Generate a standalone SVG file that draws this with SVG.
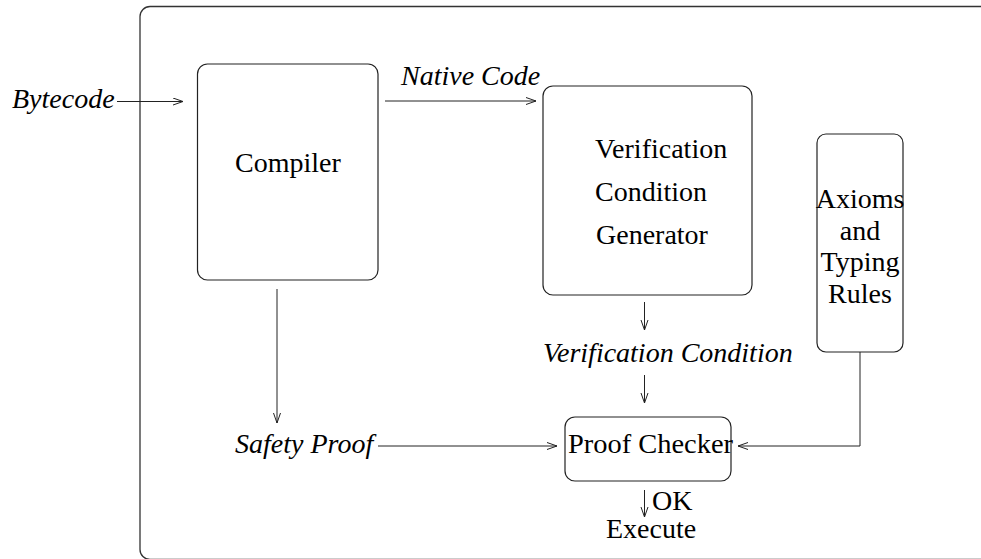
<svg xmlns="http://www.w3.org/2000/svg" width="981" height="559" viewBox="0 0 981 559">
  <defs>
    <marker id="open-arrow" markerUnits="userSpaceOnUse" markerWidth="12" markerHeight="10" refX="10" refY="4" orient="auto">
      <path d="M0,0.5 L10,4 L0,7.5" fill="none" stroke="#222" stroke-width="1"/>
    </marker>
  </defs>
  <style>
    .box { fill: #fff; stroke: #222; stroke-width: 1.2; }
    .frame { fill: none; stroke: #333; stroke-width: 1.3; }
    .wire { fill: none; stroke: #222; stroke-width: 1; }
    .arrow { fill: none; stroke: #222; stroke-width: 1; marker-end: url(#open-arrow); }
    text { font-family: "Liberation Serif", "Times New Roman", serif; font-size: 28px; fill: #000; }
    .it { font-style: italic; }
  </style>

  <rect id="frame" class="frame" x="140" y="6.5" width="900" height="553" rx="10" ry="10"/>

  <g id="compiler">
    <rect class="box" x="197.5" y="64" width="180.5" height="216" rx="10" ry="10"/>
    <text x="288" y="172" text-anchor="middle">Compiler</text>
  </g>

  <g id="vcgen">
    <rect class="box" x="543" y="86" width="209" height="209" rx="10" ry="10"/>
    <text x="595" y="158">Verification</text>
    <text x="595" y="201">Condition</text>
    <text x="596" y="244">Generator</text>
  </g>

  <g id="axioms">
    <rect class="box" x="817" y="134" width="86" height="218" rx="9" ry="9"/>
    <text x="860" y="208" text-anchor="middle">Axioms</text>
    <text x="860" y="240" text-anchor="middle">and</text>
    <text x="860" y="271" text-anchor="middle">Typing</text>
    <text x="860" y="303" text-anchor="middle">Rules</text>
  </g>

  <g id="checker">
    <rect class="box" x="565" y="417" width="166" height="64" rx="10" ry="10"/>
    <text x="568" y="453" textLength="165" lengthAdjust="spacingAndGlyphs">Proof Checker</text>
  </g>

  <g id="labels">
    <text class="it" x="12" y="108">Bytecode</text>
    <text class="it" x="401" y="85">Native Code</text>
    <text class="it" x="543" y="362">Verification Condition</text>
    <text class="it" x="235" y="453">Safety Proof</text>
    <text x="652" y="510">OK</text>
    <text x="606" y="538">Execute</text>
  </g>

  <g id="connectors">
    <path class="arrow" d="M117,101.5 H183"/>
    <path class="arrow" d="M385,101 H536"/>
    <path class="arrow" d="M277,289 V423"/>
    <path class="arrow" d="M644.5,302 V330"/>
    <path class="arrow" d="M644.5,375 V403"/>
    <path class="arrow" d="M378,446 H557"/>
    <path class="arrow" d="M860,352 V446 H738"/>
    <path class="arrow" d="M644.5,490 V517"/>
  </g>
</svg>
